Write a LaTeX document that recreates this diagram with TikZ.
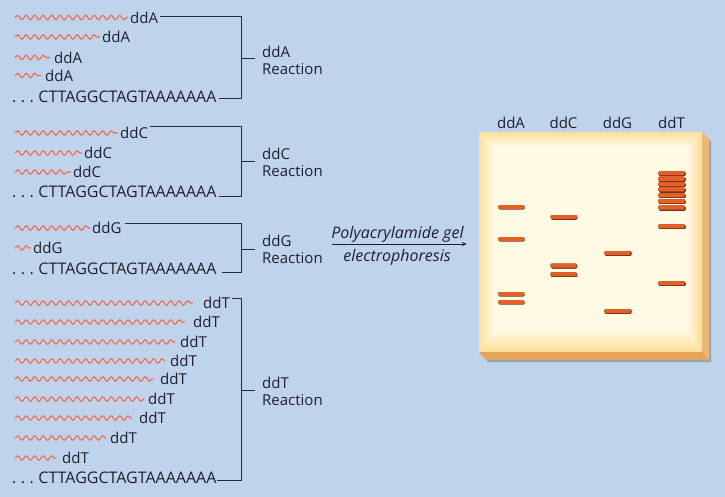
\documentclass[tikz,border=0pt]{standalone}
\usepackage{fontspec}
\setmainfont{Open Sans}
\usetikzlibrary{arrows.meta,decorations.pathmorphing}
\definecolor{bg}{HTML}{BFD3ED}
\definecolor{ink}{HTML}{1F1F2B}
\definecolor{brc}{HTML}{2B2B36}
\definecolor{wav}{HTML}{EF6A4B}
\definecolor{band}{HTML}{E2602A}
\definecolor{bandsh}{HTML}{7A3418}
\definecolor{gelin}{HTML}{FFFAE4}
\definecolor{geledge}{HTML}{FBE09A}
\definecolor{gelside}{HTML}{EDB774}
\definecolor{gelbot}{HTML}{E3A45C}
\definecolor{gelsh}{HTML}{97A3B8}
\newcommand\fsT{\fontsize{15}{17}\selectfont}
\newcommand\fsS{\fontsize{16}{18}\selectfont}
\newcommand\lead{.\hspace{4.5pt}.\hspace{4.5pt}.\hspace{4.5pt}}
\newcommand\gband[2]{% lane centre, y
  \fill[bandsh,rounded corners=1pt] (#1-12.4,#2-1.4) rectangle (#1+13.6,#2+2.6);
  \fill[band,rounded corners=1pt] (#1-13,#2-2) rectangle (#1+13,#2+1.8);}

\begin{document}
\begin{tikzpicture}[x=1pt,y=-1pt,
  txt/.style={anchor=west,font=\fsT,text=ink,inner sep=0},
  seq/.style={anchor=west,font=\fsS,text=ink,inner sep=0},
  rxn/.style={anchor=west,align=left,font=\fsT,text=ink,inner sep=0},
  lane/.style={font=\fsT,text=ink,inner sep=0},
  ital/.style={font=\fsS\itshape,text=ink,inner sep=0},
  wave/.style={wav,line width=1.1pt,decorate,decoration={snake,amplitude=2.2pt,segment length=8.5pt}},
  bracket/.style={brc,line width=0.9pt},
  arr/.style={ink,line width=0.6pt,-{Stealth[length=5pt,width=4pt]}}]
\fill[bg] (0,0) rectangle (725,497);
\useasboundingbox (0,0) rectangle (725,497);
% ============ ddA reaction ============
\foreach \n/\x/\y/\e in {a1/130/17.5/128,a2/102/37/100,a3/54/57.5/50,a4/45/75.5/41} {
  \node[txt] (\n) at (\x,\y) {ddA};
  \draw[wave] (15,\y) -- ([xshift=\e-\x]\n.west);
}
\node[seq] (aS) at (12,96.5) {\lead CTTAGGCTAGTAAAAAAA};
\node[rxn] (rA) at (262,60) {ddA\\Reaction};
\coordinate (At) at (241,16.7);
\coordinate (Ab) at (241,98.3);
\coordinate (Am) at (241,58.3);
\draw[bracket] ([xshift=2]At -| a1.east) -- (At) -- (Ab) -- ([xshift=2]Ab -| aS.east);
\draw[bracket] (Am) -- ([xshift=-7]Am -| rA.west);
% ============ ddC reaction ============
\foreach \n/\x/\y/\e in {c1/120/133/118,c2/84/153/82,c3/73/172/71} {
  \node[txt] (\n) at (\x,\y) {ddC};
  \draw[wave] (15,\y) -- ([xshift=\e-\x]\n.west);
}
\node[seq] (cS) at (12,192) {\lead CTTAGGCTAGTAAAAAAA};
\node[rxn] (rC) at (262,162.5) {ddC\\Reaction};
\coordinate (Ct) at (241,126.3);
\coordinate (Cb) at (241,196.7);
\coordinate (Cm) at (241,161.7);
\draw[bracket] ([xshift=2]Ct -| c1.east) -- (Ct) -- (Cb) -- ([xshift=2]Cb -| cS.east);
\draw[bracket] (Cm) -- ([xshift=-7]Cm -| rC.west);
% ============ ddG reaction ============
\foreach \n/\x/\y/\e in {g1/92/228/90,g2/33/248/31} {
  \node[txt] (\n) at (\x,\y) {ddG};
  \draw[wave] (15,\y) -- ([xshift=\e-\x]\n.west);
}
\node[seq] (gS) at (12,269) {\lead CTTAGGCTAGTAAAAAAA};
\node[rxn] (rG) at (262,249.5) {ddG\\Reaction};
\coordinate (Gt) at (241,223.3);
\coordinate (Gb) at (241,272.7);
\coordinate (Gm) at (241,249);
\draw[bracket] ([xshift=3]Gt -| g1.east) -- (Gt) -- (Gb) -- ([xshift=5]Gb -| gS.east);
\draw[bracket] (Gm) -- ([xshift=-7]Gm -| rG.west);
% ============ ddT reaction ============
\foreach \n/\x/\y/\e in {t1/203/303/193,t2/193/322/185,t3/180/342/175,t4/170/361/165,t5/160/379/153,
  t6/148/399/144,t7/139/418/132,t8/110/438/106,t9/62/458/56} {
  \node[txt] (\n) at (\x,\y) {ddT};
  \draw[wave] (15,\y) -- ([xshift=\e-\x]\n.west);
}
\node[seq] (tS) at (12,478) {\lead CTTAGGCTAGTAAAAAAA};
\node[rxn] (rT) at (262,391.5) {ddT\\Reaction};
\coordinate (Tt) at (241,298);
\coordinate (Tb) at (241,480);
\coordinate (Tm) at (241,390);
\draw[bracket] ([xshift=2]Tt -| t1.east) -- (Tt) -- (Tb) -- (Tb -| tS.east);
\draw[bracket] (Tm) -- ([xshift=-7]Tm -| rT.west);
% ============ gel ============
\node[minimum width=223,minimum height=220,inner sep=0] (gel) at (590.5,242) {};
\fill[gelsh] (481,354) -- (704,134) -- (711,142) -- (711,362) -- (488,362) -- cycle;
\fill[gelside] (702,132) -- (709,140) -- (709,360) -- (702,352) -- cycle;
\fill[gelbot] (479,352) -- (702,352) -- (709,360) -- (486,360) -- cycle;
\foreach \k in {0,...,11} {
  \pgfmathtruncatemacro\p{\k*9}
  \fill[gelin!\p!geledge] ([shift={(\k*1.3,\k*1.3)}]gel.north west) rectangle ([shift={(-\k*1.3,-\k*1.9)}]gel.south east);
}
\foreach \n/\x/\t in {lA/511/ddA,lC/563.5/ddC,lG/617.5/ddG,lT/671.5/ddT}
  \node[lane] (\n) at (\x,123) {\t};
\foreach \y in {207,239,294,302} \gband{511}{\y}
\foreach \y in {217,265.7,274.3} \gband{563.5}{\y}
\foreach \y in {253,311} \gband{617.5}{\y}
\foreach \y in {173.3,179,184.3,189.7,195.3,201.3,207.7,226.3,283.3} \gband{671.5}{\y}
% ============ electrophoresis ============
\coordinate (pS) at (332,244);
\draw[arr] (pS) -- ([xshift=-12]pS -| gel.west);
\node[ital] (pg1) at (397.5,234.5) {Polyacrylamide gel};
\node[ital] (pg2) at (397,257.5) {electrophoresis};
\end{tikzpicture}
\end{document}
